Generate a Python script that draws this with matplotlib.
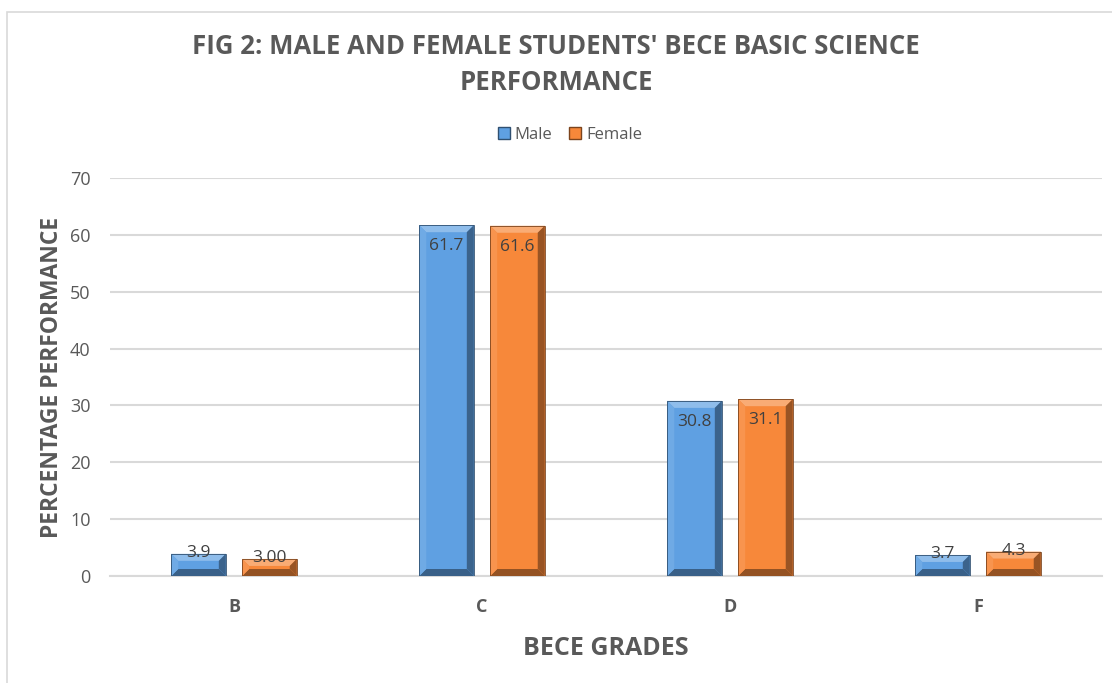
import numpy as np
import matplotlib.pyplot as plt
from matplotlib.patches import Polygon, Patch, Rectangle
from matplotlib.colors import to_rgb

grades = ['B', 'C', 'D', 'F']
male = [3.9, 61.7, 30.8, 3.7]
female = [3.0, 61.6, 31.1, 4.3]
male_labels = ['3.9', '61.7', '30.8', '3.7']
female_labels = ['3.00', '61.6', '31.1', '4.3']

BLUE = '#5FA0E2'
ORANGE = '#F7883A'
GREY = '#595959'

plt.rcParams['font.family'] = ['Open Sans', 'DejaVu Sans']

fig = plt.figure(figsize=(11.12, 6.83), dpi=100)
ax = fig.add_axes([110 / 1112, 1 - 576 / 683, (1102 - 110) / 1112, (576 - 178) / 683])

# chart frame (left and top edges visible)
fig.patches.append(Rectangle((7 / 1112, -0.1), 1.2, 1.1 - 12 / 683, transform=fig.transFigure,
                             fill=False, edgecolor='#D9D9D9', linewidth=1.2))

x = np.arange(len(grades))
w = 0.22
off = 0.143
ax.set_xlim(-0.5, 3.5)
ax.set_ylim(0, 70)

bars_m = ax.bar(x - off, male, w, color=BLUE, zorder=3)
bars_f = ax.bar(x + off, female, w, color=ORANGE, zorder=3)


def shade(c, f):
    r = np.array(to_rgb(c))
    if f > 1:
        return tuple(r + (1 - r) * (f - 1))
    return tuple(r * f)


# bevel effect, pixel sizes converted to data units
px_x = 4 / (1102 - 110)
px_y = 70 / (576 - 178)
bev = 7
for bars, col in [(bars_m, BLUE), (bars_f, ORANGE)]:
    for b in bars:
        x0, w0, h = b.get_x(), b.get_width(), b.get_height()
        x1 = x0 + w0
        bx = bev * px_x
        by = min(bev * px_y, h / 2)
        xi0, xi1 = x0 + bx, x1 - bx
        polys = [
            ([(x0, h), (x1, h), (xi1, h - by), (xi0, h - by)], shade(col, 1.3)),
            ([(x0, 0), (x1, 0), (xi1, by), (xi0, by)], shade(col, 0.6)),
            ([(x0, 0), (xi0, by), (xi0, h - by), (x0, h)], shade(col, 1.1)),
            ([(x1, 0), (xi1, by), (xi1, h - by), (x1, h)], shade(col, 0.62)),
        ]
        for pts, c in polys:
            ax.add_patch(Polygon(pts, closed=True, facecolor=c, edgecolor='none', zorder=4))
        ax.add_patch(Rectangle((x0, 0), w0, h, fill=False, edgecolor=shade(col, 0.5),
                               linewidth=0.6, zorder=5))

# data labels
for bars, labs in [(bars_m, male_labels), (bars_f, female_labels)]:
    for b, lab in zip(bars, labs):
        h = b.get_height()
        if h / px_y > 40:
            yy = h - 21 * px_y
        else:
            yy = h + 1 * px_y
        ax.text(b.get_x() + b.get_width() / 2, yy, lab, ha='center', va='center',
                fontsize=12.5, color='#404040', zorder=6)

ax.set_yticks(range(0, 71, 10))
ax.yaxis.grid(True, color='#D9D9D9', linewidth=1.5, zorder=0)
ax.set_axisbelow(True)
for s in ['top', 'right', 'left']:
    ax.spines[s].set_visible(False)
ax.spines['bottom'].set_color('#D9D9D9')
ax.spines['bottom'].set_linewidth(1.5)
ax.tick_params(axis='both', length=0)
ax.tick_params(axis='y', labelsize=13, labelcolor=GREY, pad=14)
ax.set_xticks(x)
ax.set_xticklabels(grades, fontsize=13, fontweight='bold', color=GREY)
ax.tick_params(axis='x', pad=16)

ax.set_ylabel('PERCENTAGE PERFORMANCE', fontsize=16.5, fontweight='bold', color=GREY, labelpad=4)
ax.set_xlabel('BECE GRADES', fontsize=18, fontweight='bold', color=GREY, labelpad=14)

fig.text(0.5, 1 - 47 / 683, "FIG 2: MALE AND FEMALE STUDENTS' BECE BASIC SCIENCE",
         ha='center', va='center', fontsize=18.5, fontweight='bold', color=GREY)
fig.text(0.5, 1 - 83 / 683, 'PERFORMANCE', ha='center', va='center',
         fontsize=18.5, fontweight='bold', color=GREY)

handles = [Patch(facecolor=BLUE, edgecolor=shade(BLUE, 0.5), label='Male'),
           Patch(facecolor=ORANGE, edgecolor=shade(ORANGE, 0.5), label='Female')]
fig.legend(handles=handles, loc='center', bbox_to_anchor=(570 / 1112, 1 - 135 / 683), ncol=2,
           frameon=False, fontsize=12, labelcolor=GREY, handlelength=0.7, handleheight=0.7,
           handletextpad=0.3, columnspacing=1.0)

fig.savefig('out.png', dpi=100)
